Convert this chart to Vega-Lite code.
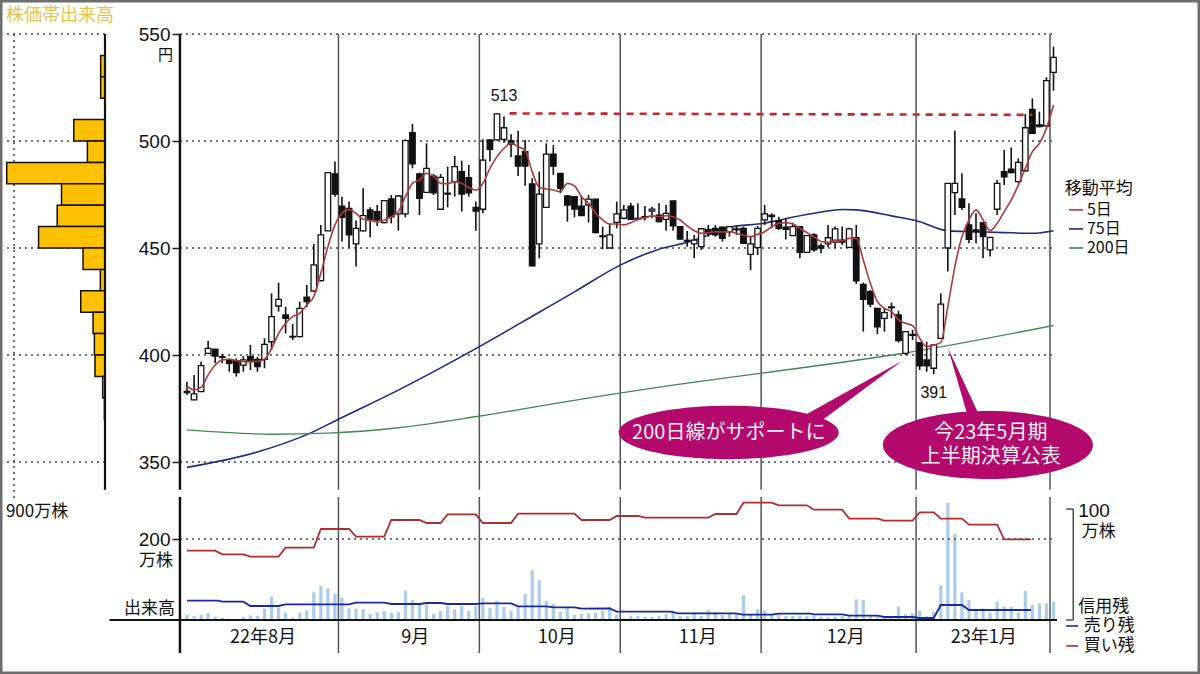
{
  "$schema": "https://vega.github.io/schema/vega-lite/v6.json",
  "width": 1200,
  "height": 674,
  "padding": 0,
  "autosize": {"type": "none"},
  "background": "white",
  "config": {
    "view": {"stroke": "#6e6e6e", "strokeWidth": 5},
    "text": {"font": "Noto Sans CJK JP", "color": "#111", "baseline": "middle"}
  },
  "datasets": {
    "candles": [
      {"i":0,"o":383,"c":382.4,"h":387.5,"l":381.3,"ma5":385.5,"vol":4.4},
      {"i":1,"o":379,"c":381.8,"h":390.7,"l":379,"ma5":383.7,"vol":3.5},
      {"i":2,"o":382.9,"c":395,"h":396.9,"l":382.9,"ma5":384.9,"vol":4.7},
      {"i":3,"o":400.8,"c":403.1,"h":406.7,"l":400.5,"ma5":390.7,"vol":6.2},
      {"i":4,"o":402.7,"c":399.5,"h":402.7,"l":396.1,"ma5":395.3,"vol":3},
      {"i":5,"o":399.2,"c":398.9,"h":400.5,"l":396.1,"ma5":397.7,"vol":1.8},
      {"i":6,"o":397.7,"c":396.1,"h":398.4,"l":392.2,"ma5":398,"vol":1.2},
      {"i":7,"o":397.4,"c":391.8,"h":398.4,"l":389.9,"ma5":397.4,"vol":0.9},
      {"i":8,"o":395.3,"c":397.7,"h":399.5,"l":392.2,"ma5":396.9,"vol":2.7},
      {"i":9,"o":399.2,"c":396.9,"h":404.7,"l":393,"ma5":396.9,"vol":4.1},
      {"i":10,"o":398,"c":394.6,"h":399.2,"l":392.2,"ma5":397,"vol":3.5},
      {"i":11,"o":398,"c":405,"h":407.8,"l":393.8,"ma5":398,"vol":10},
      {"i":12,"o":406.2,"c":417.9,"h":428.8,"l":402.3,"ma5":403,"vol":20.7},
      {"i":13,"o":422.9,"c":426,"h":433.8,"l":420.3,"ma5":410,"vol":11.2},
      {"i":14,"o":418.7,"c":417.1,"h":422.6,"l":410.1,"ma5":414.8,"vol":6.5},
      {"i":15,"o":408.7,"c":408.4,"h":414.5,"l":407,"ma5":417.9,"vol":2.4},
      {"i":16,"o":408.6,"c":421.8,"h":424.9,"l":408.3,"ma5":419.5,"vol":6.5},
      {"i":17,"o":427,"c":424.9,"h":432.7,"l":422.3,"ma5":423.4,"vol":8.6},
      {"i":18,"o":429.9,"c":442.1,"h":451.9,"l":429.6,"ma5":427.3,"vol":24.5},
      {"i":19,"o":434.8,"c":456.1,"h":460.8,"l":434.3,"ma5":438.2,"vol":30.1},
      {"i":20,"o":458,"c":485.2,"h":485.2,"l":458,"ma5":450.6,"vol":28},
      {"i":21,"o":484.6,"c":475.2,"h":490.4,"l":474,"ma5":460.8,"vol":23},
      {"i":22,"o":469.6,"c":464.3,"h":474,"l":453,"ma5":466.2,"vol":19.8},
      {"i":23,"o":468.5,"c":456.1,"h":471.7,"l":449.9,"ma5":468,"vol":10.3},
      {"i":24,"o":451.9,"c":459.2,"h":462.8,"l":441.3,"ma5":466.2,"vol":10},
      {"i":25,"o":458,"c":465.1,"h":477.9,"l":457.7,"ma5":463.4,"vol":9.7},
      {"i":26,"o":467.8,"c":463.1,"h":469,"l":455,"ma5":463,"vol":5.3},
      {"i":27,"o":467,"c":463.1,"h":470.1,"l":460.3,"ma5":462.3,"vol":6.8},
      {"i":28,"o":461.9,"c":472.1,"h":472.4,"l":461.5,"ma5":463,"vol":8},
      {"i":29,"o":472.9,"c":464.6,"h":474.8,"l":461.5,"ma5":464.6,"vol":6.5},
      {"i":30,"o":465.9,"c":474.3,"h":474.8,"l":458.1,"ma5":467,"vol":6.8},
      {"i":31,"o":465.9,"c":500.2,"h":500.8,"l":464.3,"ma5":474,"vol":26},
      {"i":32,"o":503.9,"c":489.3,"h":508,"l":487.2,"ma5":480.2,"vol":17.7},
      {"i":33,"o":484.6,"c":473.2,"h":485.2,"l":465.4,"ma5":481.8,"vol":13.9},
      {"i":34,"o":476,"c":487.2,"h":498.9,"l":476,"ma5":484.9,"vol":13.6},
      {"i":35,"o":483.6,"c":475.8,"h":484.6,"l":474.8,"ma5":483.6,"vol":5.3},
      {"i":36,"o":468.1,"c":483,"h":484.6,"l":468,"ma5":480.2,"vol":8},
      {"i":37,"o":475.6,"c":475.2,"h":488,"l":469,"ma5":480,"vol":12.7},
      {"i":38,"o":481,"c":488,"h":493,"l":474,"ma5":481,"vol":9.4},
      {"i":39,"o":485.7,"c":475.2,"h":490.8,"l":467,"ma5":480.2,"vol":12.4},
      {"i":40,"o":482.9,"c":475.8,"h":488.8,"l":474,"ma5":478.3,"vol":8.3},
      {"i":41,"o":469,"c":467.3,"h":471.7,"l":458.1,"ma5":477,"vol":12.4},
      {"i":42,"o":468.1,"c":491.1,"h":500.8,"l":466.2,"ma5":480.2,"vol":19.8},
      {"i":43,"o":500.5,"c":496.1,"h":500.8,"l":490.4,"ma5":487.2,"vol":10.9},
      {"i":44,"o":500.5,"c":512.7,"h":513,"l":500.2,"ma5":492.7,"vol":17.1},
      {"i":45,"o":500.8,"c":506.2,"h":511.4,"l":499.2,"ma5":496.6,"vol":11.5},
      {"i":46,"o":500.2,"c":498.4,"h":503.1,"l":492.4,"ma5":498.9,"vol":8.3},
      {"i":47,"o":493,"c":488.3,"h":504.8,"l":483.6,"ma5":497.4,"vol":12.1},
      {"i":48,"o":495,"c":488.3,"h":500.5,"l":479.1,"ma5":495.5,"vol":23},
      {"i":49,"o":479.9,"c":441.7,"h":482.6,"l":441.3,"ma5":485.7,"vol":44},
      {"i":50,"o":451.9,"c":475.2,"h":485.7,"l":445.2,"ma5":478.4,"vol":35.1},
      {"i":51,"o":469,"c":493.9,"h":498.9,"l":469,"ma5":477.6,"vol":16.8},
      {"i":52,"o":493.8,"c":488.3,"h":498.1,"l":484.1,"ma5":477.1,"vol":14.2},
      {"i":53,"o":484.9,"c":477.9,"h":484.9,"l":475.6,"ma5":476.3,"vol":7.1},
      {"i":54,"o":474.3,"c":470.1,"h":474.8,"l":462.3,"ma5":480.2,"vol":11.2},
      {"i":55,"o":474,"c":468.2,"h":474,"l":464.3,"ma5":479,"vol":4.7},
      {"i":56,"o":469.6,"c":465.1,"h":474.3,"l":465.1,"ma5":474,"vol":5.3},
      {"i":57,"o":470.1,"c":472.8,"h":474.8,"l":461.9,"ma5":470.9,"vol":5.9},
      {"i":58,"o":472.8,"c":457.2,"h":472.8,"l":456.9,"ma5":466.2,"vol":6.5},
      {"i":59,"o":455.7,"c":455.3,"h":460,"l":449.4,"ma5":463.1,"vol":8.3},
      {"i":60,"o":450,"c":456.1,"h":461.2,"l":450,"ma5":461.2,"vol":11.8},
      {"i":61,"o":462,"c":465.9,"h":471.7,"l":459.2,"ma5":461.2,"vol":5},
      {"i":62,"o":463.9,"c":467.8,"h":470.1,"l":463.4,"ma5":460.8,"vol":1.5},
      {"i":63,"o":469.6,"c":463.4,"h":471.2,"l":463.1,"ma5":461.8,"vol":3.8},
      {"i":64,"o":463.9,"c":463.5,"h":470.9,"l":462.8,"ma5":463.4,"vol":3.8},
      {"i":65,"o":464.7,"c":464.3,"h":469.6,"l":462.8,"ma5":464.2,"vol":3},
      {"i":66,"o":467.3,"c":468.2,"h":469.3,"l":463.9,"ma5":465,"vol":3},
      {"i":67,"o":465.4,"c":462.3,"h":470.9,"l":461.9,"ma5":464.6,"vol":3.5},
      {"i":68,"o":463.4,"c":466.2,"h":470.1,"l":458.1,"ma5":465.1,"vol":5.3},
      {"i":69,"o":472,"c":460.3,"h":472,"l":458.1,"ma5":464.6,"vol":7.4},
      {"i":70,"o":460,"c":454.2,"h":460,"l":454,"ma5":463.1,"vol":3.5},
      {"i":71,"o":453.6,"c":453.2,"h":458,"l":450.6,"ma5":460.3,"vol":3.5},
      {"i":72,"o":451.9,"c":453.7,"h":456.1,"l":445.2,"ma5":458.1,"vol":6.8},
      {"i":73,"o":450.6,"c":459,"h":459.2,"l":449.1,"ma5":456.9,"vol":3.5},
      {"i":74,"o":458.7,"c":456.9,"h":460.8,"l":455.3,"ma5":457.2,"vol":8.9},
      {"i":75,"o":459.2,"c":456.1,"h":460.8,"l":455.3,"ma5":457.6,"vol":6.8},
      {"i":76,"o":459.7,"c":454.5,"h":460,"l":453,"ma5":457.5,"vol":4.4},
      {"i":77,"o":457.6,"c":460,"h":460,"l":455.3,"ma5":457.6,"vol":5.3},
      {"i":78,"o":458.9,"c":458.5,"h":460.3,"l":456.1,"ma5":456.9,"vol":5.9},
      {"i":79,"o":459.2,"c":452.2,"h":460,"l":451.9,"ma5":456,"vol":21.8},
      {"i":80,"o":447,"c":451.9,"h":455.3,"l":439.7,"ma5":455.3,"vol":5.3},
      {"i":81,"o":450.2,"c":459.2,"h":460.3,"l":446.7,"ma5":456.4,"vol":9.4},
      {"i":82,"o":463.1,"c":465.9,"h":470.1,"l":460.8,"ma5":457.6,"vol":8.3},
      {"i":83,"o":465.3,"c":464.7,"h":466.2,"l":459.2,"ma5":460,"vol":5},
      {"i":84,"o":462.8,"c":459.2,"h":464.6,"l":458.4,"ma5":461.5,"vol":4.7},
      {"i":85,"o":459.7,"c":458.7,"h":463.9,"l":454,"ma5":461.8,"vol":3.5},
      {"i":86,"o":455.8,"c":460,"h":461.8,"l":455.8,"ma5":461.2,"vol":3.5},
      {"i":87,"o":460,"c":448,"h":460.3,"l":445.2,"ma5":459.2,"vol":4.1},
      {"i":88,"o":448,"c":455.8,"h":455.8,"l":448,"ma5":457.2,"vol":3.5},
      {"i":89,"o":456.1,"c":449.1,"h":456.9,"l":448.3,"ma5":455.3,"vol":4.1},
      {"i":90,"o":451,"c":450,"h":452.2,"l":447.5,"ma5":453,"vol":3},
      {"i":91,"o":451.9,"c":454.8,"h":460.8,"l":450.3,"ma5":452.7,"vol":2.4},
      {"i":92,"o":452.7,"c":458.9,"h":460,"l":449.9,"ma5":453.7,"vol":3},
      {"i":93,"o":453.7,"c":452.8,"h":460,"l":451.4,"ma5":453.4,"vol":3.5},
      {"i":94,"o":450.3,"c":458.9,"h":459.5,"l":449.9,"ma5":454.5,"vol":4.4},
      {"i":95,"o":454.8,"c":434.7,"h":460.8,"l":433.2,"ma5":454.5,"vol":18.3},
      {"i":96,"o":433,"c":426,"h":433.8,"l":410.9,"ma5":444.4,"vol":17.7},
      {"i":97,"o":429.6,"c":423.8,"h":430.4,"l":422.3,"ma5":433.5,"vol":4.1},
      {"i":98,"o":421.8,"c":413.2,"h":421.8,"l":409.8,"ma5":424.9,"vol":3},
      {"i":99,"o":417.1,"c":419.8,"h":421.8,"l":410.9,"ma5":421.8,"vol":2.4},
      {"i":100,"o":422.5,"c":422.1,"h":424.5,"l":417.1,"ma5":420.3,"vol":2.4},
      {"i":101,"o":418.7,"c":406.7,"h":420.7,"l":405.8,"ma5":416.4,"vol":11.8},
      {"i":102,"o":400.8,"c":410.9,"h":410.9,"l":400,"ma5":414.8,"vol":5},
      {"i":103,"o":409.6,"c":409.2,"h":411.7,"l":407,"ma5":413.7,"vol":5.9},
      {"i":104,"o":405.8,"c":394.9,"h":405.8,"l":393,"ma5":407.8,"vol":8.3},
      {"i":105,"o":397.7,"c":394.9,"h":406.2,"l":392.2,"ma5":403.9,"vol":3.5},
      {"i":106,"o":393.8,"c":404.7,"h":405.1,"l":391,"ma5":404.7,"vol":7.4},
      {"i":107,"o":407.8,"c":423.8,"h":428.8,"l":407.8,"ma5":405.8,"vol":30.7},
      {"i":108,"o":450,"c":480.2,"h":480.2,"l":439,"ma5":422.6,"vol":103.8},
      {"i":109,"o":475.9,"c":480.2,"h":504.8,"l":465.4,"ma5":441.3,"vol":76.1},
      {"i":110,"o":472.9,"c":469,"h":484.9,"l":467.8,"ma5":455.3,"vol":24.5},
      {"i":111,"o":460.8,"c":454.1,"h":470.9,"l":452.2,"ma5":463.1,"vol":17.7},
      {"i":112,"o":458.4,"c":457.6,"h":466.2,"l":452.2,"ma5":467.8,"vol":10},
      {"i":113,"o":461.8,"c":455.3,"h":461.8,"l":445.2,"ma5":463.1,"vol":10.3},
      {"i":114,"o":449.1,"c":455,"h":455,"l":446,"ma5":458.1,"vol":6.5},
      {"i":115,"o":468.1,"c":480.2,"h":481.8,"l":465.4,"ma5":461.5,"vol":16.2},
      {"i":116,"o":485.7,"c":483.3,"h":495.8,"l":479.4,"ma5":467,"vol":11.8},
      {"i":117,"o":486.8,"c":485.2,"h":497,"l":484.9,"ma5":472.4,"vol":11.8},
      {"i":118,"o":481,"c":490,"h":491.9,"l":480.5,"ma5":479.4,"vol":6.8},
      {"i":119,"o":486.1,"c":506.2,"h":512.6,"l":485.7,"ma5":487.2,"vol":25.7},
      {"i":120,"o":514.8,"c":503.6,"h":519.9,"l":503.3,"ma5":495,"vol":13.3},
      {"i":121,"o":507.5,"c":506.7,"h":513.7,"l":506.4,"ma5":498.9,"vol":14.8},
      {"i":122,"o":507,"c":528.2,"h":529.8,"l":506.7,"ma5":505.9,"vol":14.8},
      {"i":123,"o":532.1,"c":539.1,"h":544.1,"l":523.5,"ma5":516.8,"vol":16.2}
    ],
    "ma75": [
      {"i":0,"p":347.5},{"i":10,"p":354.7},{"i":17.5,"p":363.5},{"i":21.5,"p":370},{"i":30,"p":383.6},
      {"i":41.5,"p":403.9},{"i":50,"p":420},{"i":55,"p":429.5},{"i":61.5,"p":442},{"i":66.6,"p":449},
      {"i":71,"p":452.7},{"i":73.4,"p":455.3},{"i":77,"p":459.7},{"i":82,"p":461.6},{"i":84,"p":463},
      {"i":89,"p":466.2},{"i":93,"p":468},{"i":95,"p":467.8},{"i":100,"p":465},{"i":104,"p":462.3},
      {"i":108,"p":458},{"i":112,"p":457.6},{"i":116,"p":457.2},{"i":120,"p":456.9},{"i":123,"p":458.1}
    ],
    "ma200": [
      {"i":0,"p":365},{"i":12,"p":363},{"i":20,"p":363.5},{"i":30,"p":366},{"i":41.6,"p":371.5},
      {"i":56,"p":379.4},{"i":70,"p":386.4},{"i":81.3,"p":391.4},{"i":101.7,"p":400.8},{"i":123,"p":413.8}
    ],
    "buy": [
      {"i":0,"v":171.2},{"i":4,"v":171.2},{"i":5,"v":162.2},{"i":8,"v":162.2},{"i":9,"v":156.4},
      {"i":13,"v":156.4},{"i":14,"v":178.6},{"i":18,"v":178.6},{"i":19,"v":224.7},{"i":23,"v":224.7},
      {"i":24,"v":205.8},{"i":28,"v":205.8},{"i":29,"v":246.9},{"i":33,"v":246.9},{"i":34,"v":239.5},
      {"i":36,"v":239.5},{"i":37,"v":260.9},{"i":41,"v":260.9},{"i":42,"v":239.5},{"i":46,"v":239.5},
      {"i":47,"v":262.6},{"i":55,"v":262.6},{"i":56,"v":246.9},{"i":60,"v":246.9},{"i":61,"v":256.8},
      {"i":64,"v":256.8},{"i":65,"v":252.7},{"i":74,"v":252.7},{"i":75,"v":261.7},{"i":78,"v":261.7},
      {"i":79,"v":289.7},{"i":83,"v":289.7},{"i":84,"v":283.1},{"i":88,"v":283.1},{"i":89,"v":272.4},
      {"i":93,"v":272.4},{"i":94,"v":250.2},{"i":98,"v":250.2},{"i":99,"v":245.3},{"i":103,"v":245.3},
      {"i":104,"v":265.9},{"i":106,"v":265.9},{"i":107,"v":250.2},{"i":110,"v":250.2},{"i":111,"v":235.4},
      {"i":115,"v":235.4},{"i":116,"v":199.2},{"i":119.8,"v":199.2}
    ],
    "sell": [
      {"i":0,"v":47.8},{"i":4.4,"v":47.8},{"i":5,"v":45.3},{"i":8,"v":45.3},{"i":9,"v":34.6},
      {"i":13,"v":34.6},{"i":14,"v":38.7},{"i":23,"v":38.7},{"i":24,"v":42.8},{"i":28,"v":42.8},
      {"i":29,"v":39.5},{"i":33,"v":39.5},{"i":34,"v":42},{"i":36,"v":42},{"i":37,"v":39.5},
      {"i":41,"v":39.5},{"i":42,"v":41.2},{"i":46,"v":41.2},{"i":47,"v":33.8},{"i":51,"v":33.8},
      {"i":52,"v":31.3},{"i":55,"v":31.3},{"i":56,"v":28},{"i":60,"v":28.8},{"i":61,"v":20.6},
      {"i":68.7,"v":20.6},{"i":69.7,"v":16.5},{"i":77.9,"v":16.5},{"i":78.9,"v":13.2},{"i":83,"v":13.2},
      {"i":84,"v":15.7},{"i":88.5,"v":15.7},{"i":89,"v":14},{"i":93,"v":14},{"i":94,"v":10.7},
      {"i":98,"v":10.7},{"i":99,"v":7.4},{"i":103,"v":7.4},{"i":104,"v":5},{"i":106,"v":5},
      {"i":107,"v":37},{"i":110,"v":37},{"i":111,"v":24.7},{"i":119.8,"v":24.7}
    ],
    "profile": [
      {"lo":530,"hi":540,"vol":43},{"lo":520,"hi":530,"vol":43},{"lo":500,"hi":510,"vol":309},
      {"lo":490,"hi":500,"vol":174},{"lo":480,"hi":490,"vol":972},{"lo":470,"hi":480,"vol":430},
      {"lo":460,"hi":470,"vol":473},{"lo":450,"hi":460,"vol":657},{"lo":440,"hi":450,"vol":217},
      {"lo":430,"hi":440,"vol":46},{"lo":420,"hi":430,"vol":240},{"lo":410,"hi":420,"vol":118},
      {"lo":400,"hi":410,"vol":105},{"lo":390,"hi":400,"vol":99},{"lo":380,"hi":390,"vol":23},
      {"lo":370,"hi":380,"vol":6}
    ]
  },
  "resolve": {"scale": {"x": "independent", "y": "independent", "color": "independent"}},
  "layer": [
    {
      "data": {"name": "candles"},
      "mark": {"type": "bar", "size": 3.2, "color": "#a9cdea"},
      "encoding": {
        "x": {"field": "i", "type": "quantitative", "axis": null, "scale": {"domain": [0, 123], "range": [187, 1053.5], "padding": 0}},
        "y": {"field": "vol", "type": "quantitative", "axis": null, "scale": {"domain": [0, 100], "range": [620, 507]}}
      }
    },
    {
      "encoding": {
        "x": {"field": "i", "type": "quantitative", "axis": null, "scale": {"domain": [0, 123], "range": [187, 1053.5], "padding": 0}},
        "y": {
          "field": "v", "type": "quantitative",
          "scale": {"domain": [0, 200], "range": [620, 539]},
          "axis": {"values": [200], "orient": "left", "offset": -180, "title": null, "domain": false, "grid": false, "tickSize": 8, "tickWidth": 1.5, "tickColor": "#222", "labelFontSize": 19, "labelFont": "Liberation Sans", "labelColor": "#111", "labelPadding": 2}
        }
      },
      "layer": [
        {
          "data": {"values": [{"i": -1, "i2": 123, "v": 200}]},
          "mark": {"type": "rule", "color": "#444", "strokeWidth": 1.5, "strokeDash": [2, 4]},
          "encoding": {"x2": {"field": "i2"}}
        },
        {
          "data": {"values": [
            {"i": 21.5, "v": 304, "v2": -81.5}, {"i": 41.5, "v": 304, "v2": -81.5}, {"i": 61.5, "v": 304, "v2": -81.5},
            {"i": 81.5, "v": 304, "v2": -81.5}, {"i": 103.5, "v": 304, "v2": -81.5}, {"i": 122.5, "v": 304, "v2": -81.5}
          ]},
          "mark": {"type": "rule", "color": "#555", "strokeWidth": 1.5},
          "encoding": {"y2": {"field": "v2"}}
        },
        {
          "data": {"values": [{"i": -1, "v": 304, "v2": -81.5}]},
          "mark": {"type": "rule", "color": "#111", "strokeWidth": 2.5},
          "encoding": {"y2": {"field": "v2"}}
        },
        {
          "data": {"values": [{"i": -11, "i2": 123.5, "v": 0}]},
          "mark": {"type": "rule", "color": "#111", "strokeWidth": 2},
          "encoding": {"x2": {"field": "i2"}}
        },
        {
          "data": {"name": "buy"},
          "mark": {"type": "line", "color": "#b22c30", "strokeWidth": 1.8}
        },
        {
          "data": {"name": "sell"},
          "mark": {"type": "line", "color": "#1a2a9c", "strokeWidth": 1.8}
        },
        {
          "data": {"values": [
            {"i": 124.8, "i2": 125.8, "v": 274},
            {"i": 124.8, "i2": 125.8, "v": 0}
          ]},
          "mark": {"type": "rule", "color": "#333", "strokeWidth": 1.3},
          "encoding": {"x2": {"field": "i2"}}
        },
        {
          "data": {"values": [{"i": 125.8, "v": 274, "v2": 0}]},
          "mark": {"type": "rule", "color": "#333", "strokeWidth": 1.3},
          "encoding": {"y2": {"field": "v2"}}
        },
        {
          "data": {"values": [
            {"i": 124.8, "i2": 126.5, "v": -14.8, "s": "売り残"},
            {"i": 124.8, "i2": 126.5, "v": -64, "s": "買い残"}
          ]},
          "mark": {"type": "rule", "strokeWidth": 1.6},
          "encoding": {
            "x2": {"field": "i2"},
            "color": {"field": "s", "type": "nominal", "legend": null, "scale": {"domain": ["売り残", "買い残"], "range": ["#1a2a9c", "#b22c30"]}}
          }
        },
        {
          "data": {"values": [
            {"i": -2, "v": 146, "t": "万株"},
            {"i": -1.7, "v": 27, "t": "出来高"}
          ]},
          "mark": {"type": "text", "fontSize": 17, "align": "right"},
          "encoding": {"text": {"field": "t"}}
        },
        {
          "data": {"values": [
            {"i": 10.8, "v": -44, "t": "22年8月"},
            {"i": 32.4, "v": -44, "t": "9月"},
            {"i": 52.5, "v": -44, "t": "10月"},
            {"i": 72.5, "v": -44, "t": "11月"},
            {"i": 93.5, "v": -44, "t": "12月"},
            {"i": 113.1, "v": -44, "t": "23年1月"}
          ]},
          "mark": {"type": "text", "fontSize": 18, "align": "center"},
          "encoding": {"text": {"field": "t"}}
        },
        {
          "data": {"values": [{"i": 126.5, "v": 269, "t": "100"}]},
          "mark": {"type": "text", "fontSize": 19, "align": "left", "font": "Liberation Sans"},
          "encoding": {"text": {"field": "t"}}
        },
        {
          "data": {"values": [
            {"i": 127, "v": 217, "t": "万株"},
            {"i": 126.5, "v": 32, "t": "信用残"},
            {"i": 127.3, "v": -16, "t": "売り残"},
            {"i": 127.3, "v": -65, "t": "買い残"}
          ]},
          "mark": {"type": "text", "fontSize": 17, "align": "left"},
          "encoding": {"text": {"field": "t"}}
        }
      ]
    },
    {
      "encoding": {
        "x": {"field": "i", "type": "quantitative", "axis": null, "scale": {"domain": [0, 123], "range": [187, 1053.5], "padding": 0}},
        "y": {
          "field": "p", "type": "quantitative",
          "scale": {"domain": [350, 550], "range": [462, 34]},
          "axis": {"values": [350, 400, 450, 500, 550], "orient": "left", "offset": -180, "title": null, "domain": false, "grid": false, "tickSize": 8, "tickWidth": 1.5, "tickColor": "#222", "labelFontSize": 19, "labelFont": "Liberation Sans", "labelColor": "#111", "labelPadding": 2}
        }
      },
      "layer": [
        {
          "data": {"values": [
            {"i": -1, "i2": 123, "p": 350}, {"i": -1, "i2": 123, "p": 400}, {"i": -1, "i2": 123, "p": 450},
            {"i": -1, "i2": 123, "p": 500}, {"i": -1, "i2": 123, "p": 550}
          ]},
          "mark": {"type": "rule", "color": "#444", "strokeWidth": 1.5, "strokeDash": [2, 4]},
          "encoding": {"x2": {"field": "i2"}}
        },
        {
          "data": {"values": [
            {"i": 21.5, "p": 550, "p2": 337}, {"i": 41.5, "p": 550, "p2": 337}, {"i": 61.5, "p": 550, "p2": 337},
            {"i": 81.5, "p": 550, "p2": 337}, {"i": 103.5, "p": 550, "p2": 337}, {"i": 122.5, "p": 550, "p2": 337}
          ]},
          "mark": {"type": "rule", "color": "#555", "strokeWidth": 1.5},
          "encoding": {"y2": {"field": "p2"}}
        },
        {
          "data": {"values": [{"i": -1, "p": 550, "p2": 337}]},
          "mark": {"type": "rule", "color": "#111", "strokeWidth": 2.5},
          "encoding": {"y2": {"field": "p2"}}
        },
        {
          "data": {"name": "ma75"},
          "mark": {"type": "line", "color": "#1a2a8c", "strokeWidth": 1.6, "interpolate": "monotone"}
        },
        {
          "data": {"name": "ma200"},
          "mark": {"type": "line", "color": "#3f8a55", "strokeWidth": 1.4, "interpolate": "monotone"}
        },
        {
          "data": {"name": "candles"},
          "mark": {"type": "rule", "color": "#111", "strokeWidth": 1.6},
          "encoding": {"y": {"field": "h", "type": "quantitative"}, "y2": {"field": "l"}}
        },
        {
          "data": {"name": "candles"},
          "mark": {"type": "bar", "size": 5.5, "stroke": "#111", "strokeWidth": 1.3},
          "encoding": {
            "y": {"field": "o", "type": "quantitative"},
            "y2": {"field": "c"},
            "fill": {"condition": {"test": "datum.c > datum.o", "value": "white"}, "value": "#111"}
          }
        },
        {
          "data": {"name": "candles"},
          "mark": {"type": "line", "color": "#b3363a", "strokeWidth": 1.6, "interpolate": "monotone"},
          "encoding": {"y": {"field": "ma5", "type": "quantitative"}}
        },
        {
          "data": {"values": [{"i": 45.8, "p": 512.9}, {"i": 120, "p": 512.2}]},
          "mark": {"type": "line", "color": "#c8262a", "strokeWidth": 2.6, "strokeDash": [7, 6]}
        },
        {
          "data": {"values": [{"i": 76.9, "p": 363.8}]},
          "mark": {"type": "point", "filled": true, "opacity": 1, "size": 40000, "fill": "#b3086c", "stroke": null,
            "shape": "M-1.1,0 A1.1,.267 0 1 1 1.1,0 A1.1,.267 0 1 1 -1.1,0 Z M.72,-.15 L1.735,-.718 L.93,-.12 Z"}
        },
        {
          "data": {"values": [{"i": 113.7, "p": 357.9}]},
          "mark": {"type": "point", "filled": true, "opacity": 1, "size": 40000, "fill": "#b3086c", "stroke": null,
            "shape": "M-1.05,0 A1.05,.34 0 1 1 1.05,0 A1.05,.34 0 1 1 -1.05,0 Z M-.2,-.28 L-.4,-.97 L-.08,-.28 Z"}
        },
        {
          "data": {"values": [
            {"i": 76.9, "p": 363.6, "t": "200日線がサポートに"},
            {"i": 114.1, "p": 363.6, "t": "今23年5月期"},
            {"i": 114.1, "p": 352.3, "t": "上半期決算公表"}
          ]},
          "mark": {"type": "text", "fontSize": 20, "align": "center", "color": "#ffeef6"},
          "encoding": {"text": {"field": "t"}}
        },
        {
          "data": {"values": [
            {"i": 45, "p": 520.8, "t": "513"},
            {"i": 106, "p": 382.2, "t": "391"}
          ]},
          "mark": {"type": "text", "fontSize": 16, "align": "center", "font": "Liberation Sans"},
          "encoding": {"text": {"field": "t"}}
        },
        {
          "data": {"values": [{"i": -2, "p": 540.2, "t": "円"}]},
          "mark": {"type": "text", "fontSize": 15, "align": "right"},
          "encoding": {"text": {"field": "t"}}
        },
        {
          "data": {"values": [{"i": 124.6, "p": 477.6, "t": "移動平均"}]},
          "mark": {"type": "text", "fontSize": 17, "align": "left"},
          "encoding": {"text": {"field": "t"}}
        },
        {
          "data": {"values": [
            {"i": 127.75, "p": 467.8, "t": "5日"},
            {"i": 127.75, "p": 458.9, "t": "75日"},
            {"i": 127.75, "p": 450, "t": "200日"}
          ]},
          "mark": {"type": "text", "fontSize": 16, "align": "left"},
          "encoding": {"text": {"field": "t"}}
        },
        {
          "data": {"values": [
            {"i": 125.2, "i2": 127.2, "p": 467.8, "s": "5日"},
            {"i": 125.2, "i2": 127.2, "p": 458.9, "s": "75日"},
            {"i": 125.2, "i2": 127.2, "p": 450, "s": "200日"}
          ]},
          "mark": {"type": "rule", "strokeWidth": 1.6},
          "encoding": {
            "x2": {"field": "i2"},
            "color": {"field": "s", "type": "nominal", "legend": null, "scale": {"domain": ["5日", "75日", "200日"], "range": ["#b3363a", "#1a2a8c", "#3f8a55"]}}
          }
        }
      ]
    },
    {
      "encoding": {
        "x": {"field": "vol", "type": "quantitative", "axis": null, "scale": {"domain": [0, 900], "range": [105, 14], "padding": 0}},
        "y": {"field": "p", "type": "quantitative", "axis": null, "scale": {"domain": [350, 550], "range": [462, 34]}}
      },
      "layer": [
        {
          "data": {"values": [
            {"vol": 0, "vol2": 970, "p": 350}, {"vol": 0, "vol2": 970, "p": 400}, {"vol": 0, "vol2": 970, "p": 450},
            {"vol": 0, "vol2": 970, "p": 500}, {"vol": 0, "vol2": 970, "p": 550}
          ]},
          "mark": {"type": "rule", "color": "#444", "strokeWidth": 1.5, "strokeDash": [2, 4]},
          "encoding": {"x2": {"field": "vol2"}}
        },
        {
          "data": {"values": [{"vol": 900, "p": 550, "p2": 332}]},
          "mark": {"type": "rule", "color": "#444", "strokeWidth": 1.5, "strokeDash": [2, 4]},
          "encoding": {"y2": {"field": "p2"}}
        },
        {
          "data": {"name": "profile"},
          "mark": {"type": "rect", "fill": "#ffc000", "stroke": "#111", "strokeWidth": 1.5},
          "encoding": {
            "x2": {"datum": 0},
            "y": {"field": "lo", "type": "quantitative"},
            "y2": {"field": "hi"}
          }
        },
        {
          "data": {"values": [{"vol": 0, "p": 550, "p2": 337}]},
          "mark": {"type": "rule", "color": "#111", "strokeWidth": 2.2},
          "encoding": {"y2": {"field": "p2"}}
        },
        {
          "data": {"values": [{"vol": 980, "p": 558.4, "t": "株価帯出来高"}]},
          "mark": {"type": "text", "fontSize": 18, "align": "left", "color": "#e6c54a"},
          "encoding": {"text": {"field": "t"}}
        },
        {
          "data": {"values": [{"vol": 980, "p": 326.6, "t": "900万株"}]},
          "mark": {"type": "text", "fontSize": 17, "align": "left"},
          "encoding": {"text": {"field": "t"}}
        }
      ]
    }
  ]
}
